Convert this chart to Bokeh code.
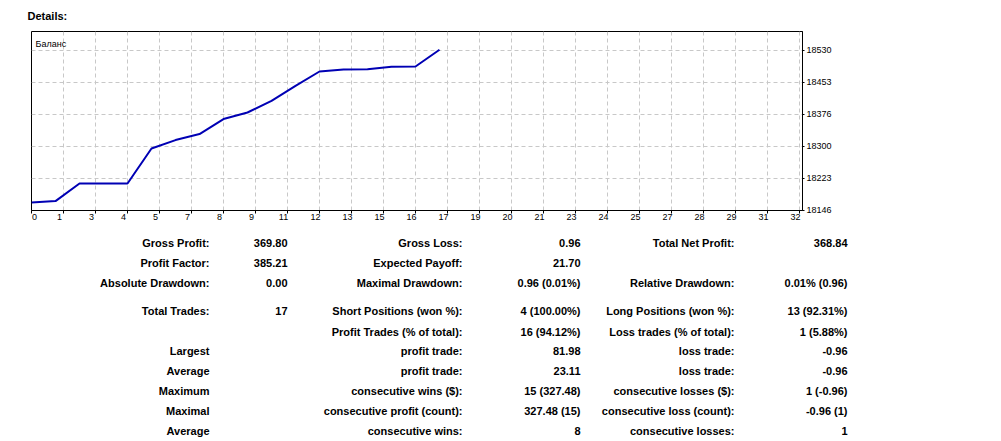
from bokeh.plotting import figure
from bokeh.models import (Range1d, FixedTicker, CustomJSTickFormatter, LinearAxis, Label)
from bokeh.layouts import column
from bokeh.embed import file_html
from bokeh.resources import INLINE
from bokeh.core.properties import value

# ---------------- data ----------------
chart_title = "Details:"
series_name = "Баланс"
trade_no = list(range(18))
balance = [18164.2, 18167.6, 18209.8, 18209.8, 18209.8, 18293.8, 18314.0, 18328.4,
           18364.4, 18380.2, 18408.3, 18444.3, 18478.6, 18483.4, 18484.0, 18489.9,
           18490.6, 18530.7]
x_ticks = [i * 4 / 3 for i in range(25)]          # labelled 0,1,3,4,5,7,...,31,32
y_ticks = [18146.0, 18222.8, 18299.6, 18376.4, 18453.2, 18530.0]

labels_a = ["Gross Profit:", "Profit Factor:", "Absolute Drawdown:", "Total Trades:", "",
            "Largest", "Average", "Maximum", "Maximal", "Average"]
values_a = ["369.80", "385.21", "0.00", "17", "", "", "", "", "", ""]
labels_b = ["Gross Loss:", "Expected Payoff:", "Maximal Drawdown:", "Short Positions (won %):",
            "Profit Trades (% of total):", "profit trade:", "profit trade:",
            "consecutive wins ($):", "consecutive profit (count):", "consecutive wins:"]
values_b = ["0.96", "21.70", "0.96 (0.01%)", "4 (100.00%)", "16 (94.12%)", "81.98", "23.11",
            "15 (327.48)", "327.48 (15)", "8"]
labels_c = ["Total Net Profit:", "", "Relative Drawdown:", "Long Positions (won %):",
            "Loss trades (% of total):", "loss trade:", "loss trade:",
            "consecutive losses ($):", "consecutive loss (count):", "consecutive losses:"]
values_c = ["368.84", "", "0.01% (0.96)", "13 (92.31%)", "1 (5.88%)", "-0.96", "-0.96",
            "1 (-0.96)", "-0.96 (1)", "1"]

# ---------------- layout constants ----------------
W, H = 1001, 441
CW, CH = 840, 232                           # chart canvas
FL, FT, FR, FB = 31, 31, 802, 210          # plot frame (canvas pixels)
FONT = "Liberation Sans"
PX_PER_X = 24.0
PX_PER_Y = 1 / 2.4
XMAX = (FR - FL) / PX_PER_X
YMIN = 18145.0
YMAX = YMIN + (FB - FT) / PX_PER_Y
SHIFT = 0.166   # label shift (data units) so labels sit just left of their ticks

p = figure(width=CW, height=CH, output_backend="svg", toolbar_location=None,
           x_range=Range1d(0, XMAX), y_range=Range1d(YMIN, YMAX),
           y_axis_location="right", min_border_left=FL, min_border_right=CW - FR,
           min_border_top=FT, min_border_bottom=CH - FB, title=chart_title)
p.title.text_font = FONT
p.title.text_font_size = "11px"
p.title.text_font_style = "bold"
p.title.text_color = "black"
p.title.align = "left"
p.title.vertical_align = "top"
p.title.offset = -4
p.title.standoff = 16
p.outline_line_color = "black"
p.outline_line_alpha = 1
p.outline_line_width = 1
p.background_fill_color = "white"
p.border_fill_color = "white"

p.extra_x_ranges = {"lab": Range1d(SHIFT, XMAX + SHIFT), "px": Range1d(FL, FR)}
p.extra_y_ranges = {"py": Range1d(FB, FT)}

# x axis: ticks only
xa = p.xaxis[0]
xa.ticker = FixedTicker(ticks=x_ticks)
xa.formatter = CustomJSTickFormatter(code="return ''")
xa.major_label_text_font_size = "1px"
xa.major_label_standoff = 0
xa.major_tick_out = 3
xa.major_tick_in = 0
xa.minor_tick_line_color = None
xa.axis_line_color = "black"
xa.major_tick_line_color = "black"

# x labels axis (shifted slightly left)
lab_ticks = [SHIFT + 0.125] + x_ticks[1:]
la = LinearAxis(x_range_name="lab", ticker=FixedTicker(ticks=lab_ticks),
                formatter=CustomJSTickFormatter(code="return tick < 0.5 ? '0' : Math.round(tick).toString()"),
                axis_line_color=None, major_tick_line_color=None, minor_tick_line_color=None,
                major_tick_out=0, major_tick_in=0, major_label_standoff=0,
                major_label_text_font=FONT, major_label_text_font_size="9px",
                major_label_text_color="black")
p.add_layout(la, "below")

ya = p.yaxis[0]
ya.ticker = FixedTicker(ticks=y_ticks)
ya.formatter = CustomJSTickFormatter(code="return Math.round(tick).toString()")
ya.major_tick_out = 2
ya.major_tick_in = 0
ya.minor_tick_line_color = None
ya.major_label_standoff = 2
ya.major_label_text_font = FONT
ya.major_label_text_font_size = "9px"
ya.major_label_text_color = "black"
ya.axis_line_color = "black"

p.xgrid.ticker = FixedTicker(ticks=x_ticks)
p.ygrid.ticker = FixedTicker(ticks=y_ticks)
p.grid.grid_line_color = "#c8c8c8"
p.grid.grid_line_dash = "4 3"
p.grid.grid_line_width = 1

p.line(trade_no, balance, line_color="#0000B4", line_width=2)

p.add_layout(Label(x=35, y=43.5, x_range_name="px", y_range_name="py", text=series_name,
                   text_baseline="alphabetic", text_font=FONT, text_font_size="9px",
                   text_color="black"))

# ---------------- stats table (own figure, page-pixel coordinates) ----------------
TH = H - CH
TL, TR = 31, 38
t = figure(width=W, height=TH, output_backend="svg", toolbar_location=None,
           x_range=Range1d(TL, W - TR), y_range=Range1d(H, CH),
           x_axis_type=None, y_axis_type=None,
           min_border_left=TL, min_border_right=TR, min_border_top=0, min_border_bottom=0)
t.outline_line_color = None
t.grid.visible = False

col_right = [209, 287, 462, 580, 734, 847]
row_base = [242.8, 262.8, 282.8, 310.5, 331.0, 350.5, 370.5, 390.5, 410.5, 430.5]
xs, ys, txt = [], [], []
for cx, col in zip(col_right, [labels_a, values_a, labels_b, values_b, labels_c, values_c]):
    for ry, s in zip(row_base, col):
        if s:
            xs.append(cx)
            ys.append(ry)
            txt.append(s)
t.text(x=xs, y=ys, text=txt, text_align="right", text_baseline="alphabetic",
       text_font=value(FONT), text_font_style="bold", text_font_size="11px",
       text_color="black")

layout = column(p, t, spacing=0)
open("out.html", "w").write(file_html(layout, INLINE, "Details"))
